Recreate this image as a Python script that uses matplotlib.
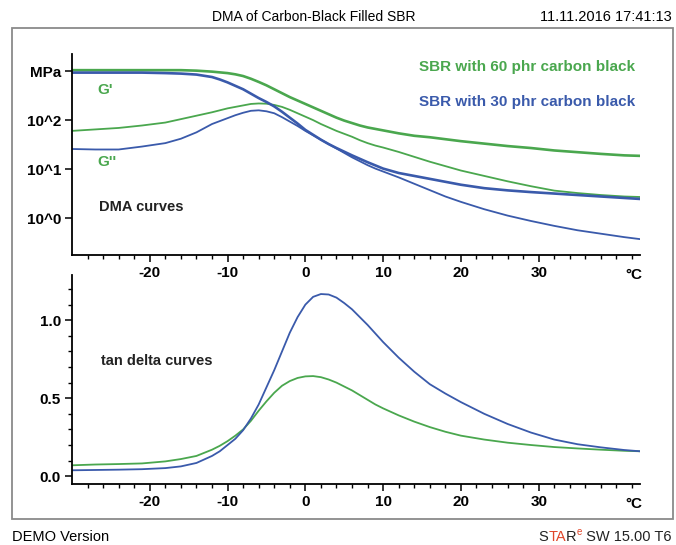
import numpy as np
import matplotlib
matplotlib.use("Agg")
import matplotlib.pyplot as plt
from matplotlib.patches import Rectangle
from matplotlib.ticker import FixedLocator, MultipleLocator

plt.rcParams['font.family'] = ['Liberation Sans', 'DejaVu Sans']

# temperature grid (°C)
temp = [-30, -27, -24, -21, -18, -16, -14, -12, -11, -10, -9, -8, -7, -6, -5, -4, -3, -2, -1, 0,
        1, 2, 3, 4, 5, 6, 7, 8, 9, 10, 12, 14, 16, 18, 20, 23, 26, 29, 32, 35, 38, 41, 43]

# log10 of modulus in MPa
gp_60 = [3.02, 3.02, 3.02, 3.02, 3.02, 3.02, 3.01, 2.99, 2.975, 2.96, 2.935, 2.90, 2.845, 2.78,
         2.71, 2.63, 2.55, 2.47, 2.40, 2.33, 2.26, 2.19, 2.12, 2.05, 1.99, 1.94, 1.89, 1.85, 1.82,
         1.79, 1.73, 1.68, 1.65, 1.61, 1.57, 1.52, 1.47, 1.43, 1.38, 1.345, 1.31, 1.28, 1.27]
gp_30 = [2.97, 2.97, 2.97, 2.97, 2.96, 2.95, 2.93, 2.88, 2.83, 2.77, 2.70, 2.63, 2.54, 2.45,
         2.37, 2.28, 2.17, 2.05, 1.93, 1.80, 1.70, 1.60, 1.51, 1.43, 1.355, 1.28, 1.21, 1.14, 1.075,
         1.01, 0.92, 0.86, 0.80, 0.74, 0.68, 0.61, 0.565, 0.53, 0.50, 0.47, 0.44, 0.41, 0.39]
gpp_60 = [1.78, 1.81, 1.84, 1.89, 1.95, 2.02, 2.09, 2.16, 2.20, 2.24, 2.27, 2.30, 2.33, 2.34,
          2.335, 2.31, 2.27, 2.21, 2.14, 2.07, 2.00, 1.92, 1.85, 1.78, 1.72, 1.66, 1.59, 1.53, 1.48,
          1.44, 1.35, 1.25, 1.15, 1.06, 0.97, 0.86, 0.75, 0.65, 0.56, 0.51, 0.47, 0.44, 0.43]
gpp_30 = [1.41, 1.40, 1.40, 1.46, 1.53, 1.62, 1.75, 1.92, 1.98, 2.04, 2.10, 2.15, 2.19, 2.20,
          2.18, 2.14, 2.06, 1.97, 1.88, 1.78, 1.69, 1.60, 1.51, 1.42, 1.33, 1.24, 1.16, 1.08, 1.01,
          0.95, 0.83, 0.70, 0.57, 0.44, 0.33, 0.18, 0.05, -0.06, -0.16, -0.25, -0.32, -0.39, -0.43]

tan_60 = [0.07, 0.075, 0.078, 0.082, 0.095, 0.11, 0.13, 0.17, 0.195, 0.225, 0.26, 0.30, 0.355,
          0.42, 0.48, 0.535, 0.58, 0.61, 0.63, 0.64, 0.642, 0.635, 0.62, 0.60, 0.575, 0.55, 0.52,
          0.49, 0.46, 0.435, 0.39, 0.35, 0.315, 0.285, 0.26, 0.235, 0.215, 0.20, 0.187, 0.178,
          0.17, 0.163, 0.16]
tan_30 = [0.038, 0.040, 0.042, 0.045, 0.052, 0.063, 0.085, 0.13, 0.16, 0.20, 0.24, 0.295, 0.37,
          0.46, 0.57, 0.68, 0.80, 0.92, 1.02, 1.10, 1.15, 1.168, 1.165, 1.145, 1.11, 1.07, 1.02,
          0.97, 0.915, 0.86, 0.76, 0.67, 0.59, 0.53, 0.475, 0.40, 0.335, 0.28, 0.235, 0.205, 0.185,
          0.168, 0.16]

x_major = [-20, -10, 0, 10, 20, 30]
green = '#4aa74e'
blue = '#3a5aab'
dark = '#222222'
red = '#e0462a'

fig = plt.figure(figsize=(6.76, 5.45), dpi=100)
fig.patches.append(Rectangle((0.0178, 0.0477), 0.978, 0.901, transform=fig.transFigure,
                             fill=False, edgecolor='#8a8a8a', lw=1.3))

ax1 = fig.add_axes([0.1065, 0.5321, 0.840, 0.3688])
ax2 = fig.add_axes([0.1065, 0.1119, 0.840, 0.3835])

t = np.array(temp)
ax1.semilogy(t, 10 ** np.array(gp_60), color=green, lw=1.9)
ax1.semilogy(t, 10 ** np.array(gpp_60), color=green, lw=1.3)
ax1.semilogy(t, 10 ** np.array(gp_30), color=blue, lw=1.9)
ax1.semilogy(t, 10 ** np.array(gpp_30), color=blue, lw=1.3)
ax1.set_ylim(10 ** -0.755, 10 ** 3.35)
ax1.yaxis.set_major_locator(FixedLocator([1, 10, 100, 1000]))
ax1.yaxis.set_minor_locator(FixedLocator([]))
ax1.set_yticklabels(['10^0', '10^1', '10^2', 'MPa'])

ax2.plot(t, tan_60, color=green, lw=1.3)
ax2.plot(t, tan_30, color=blue, lw=1.3)
ax2.set_ylim(-0.05, 1.29)
ax2.yaxis.set_major_locator(FixedLocator([0.0, 0.5, 1.0]))
ax2.yaxis.set_minor_locator(MultipleLocator(0.1))
ax2.set_yticklabels(['0.0', '0.5', '1.0'])

for ax in (ax1, ax2):
    ax.patch.set_visible(False)
    ax.set_xlim(-30, 43)
    ax.xaxis.set_major_locator(FixedLocator(x_major))
    ax.xaxis.set_minor_locator(FixedLocator(list(range(-28, 43, 2))))
    ax.set_xticklabels([str(v) for v in x_major])
    for s in ('top', 'right'):
        ax.spines[s].set_visible(False)
    for s in ('left', 'bottom'):
        ax.spines[s].set_linewidth(1.3)
    ax.tick_params(which='major', length=5, width=1.1, direction='out', labelsize=11, pad=3)
    ax.tick_params(which='minor', length=3, width=1.0, direction='out')
    for lab in ax.get_xticklabels() + ax.get_yticklabels():
        lab.set_fontweight('bold')
    ax.annotate('°C', xy=(42.2, 0), xycoords=('data', 'axes fraction'), xytext=(0, -9),
                textcoords='offset points', ha='center', va='top', fontsize=11, fontweight='bold')

ax1.text(-26.8, 10 ** 2.61, "G'", color=green, fontsize=11, fontweight='bold', va='center')
ax1.text(-26.8, 10 ** 1.14, "G''", color=green, fontsize=11, fontweight='bold', va='center')
ax1.text(-26.5, 10 ** 0.22, "DMA curves", color=dark, fontsize=10.5, fontweight='bold',
         va='center')
ax1.text(42.4, 10 ** 3.08, "SBR with 60 phr carbon black", color=green, fontsize=11,
         fontweight='bold', ha='right', va='center')
ax1.text(42.4, 10 ** 2.37, "SBR with 30 phr carbon black", color=blue, fontsize=11,
         fontweight='bold', ha='right', va='center')
ax2.text(-26.3, 0.74, "tan delta curves", color=dark, fontsize=10.5, fontweight='bold',
         va='center')

fig.text(0.314, 0.969, "DMA of Carbon-Black Filled SBR", fontsize=10, va='center')
fig.text(0.994, 0.969, "11.11.2016 17:41:13", fontsize=10.5, va='center', ha='right')
fig.text(0.018, 0.0147, "DEMO Version", fontsize=10.5, va='center')

# STARe SW 15.00 T6 with coloured letters
fig.canvas.draw()
r = fig.canvas.get_renderer()
W = fig.bbox.width
yb = 0.0147
tail = fig.text(0.994, yb, " SW 15.00 T6", color=dark, fontsize=10.5, ha='right', va='center')
x_tail = tail.get_window_extent(renderer=r).x0
sup = fig.text(x_tail / W, yb + 5 / 545, "e", color=red, fontsize=7, ha='right', va='center')
x_star_end = sup.get_window_extent(renderer=r).x0 - 0.5


def width_of(s):
    tmp = fig.text(0, 0, s, fontsize=10.5)
    w = tmp.get_window_extent(renderer=r).width
    tmp.remove()
    return w


x0 = x_star_end - width_of("STAR")
for upto, txt, col in [("S", "S", dark), ("STA", "TA", red), ("STAR", "R", dark)]:
    off = width_of(upto) - width_of(txt)
    fig.text((x0 + off) / W, yb, txt, color=col, fontsize=10.5, ha='left', va='center')

fig.savefig('out.png', dpi=100)
